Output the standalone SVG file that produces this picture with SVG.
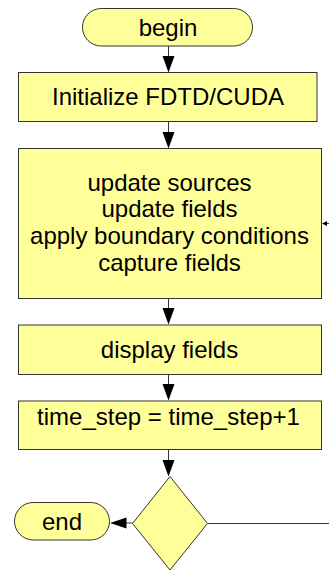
<svg xmlns="http://www.w3.org/2000/svg" width="329" height="571" viewBox="0 0 329 571">
<defs>
<style>
.n{fill:#ffff99;stroke:#333;stroke-width:1}
.t{font-family:"Liberation Sans",Arial,sans-serif;font-size:24px;fill:#000;text-anchor:middle}
.c{fill:none;stroke:#333;stroke-width:1}
.h{fill:#000;stroke:none}
</style>
</defs>
<rect width="329" height="571" fill="#fff"/>
<g id="connectors">
<line class="c" x1="168.5" y1="46" x2="168.5" y2="58"/>
<polygon class="h" points="162.5,56 174.5,56 168.5,72.5"/>
<line class="c" x1="168.5" y1="121.5" x2="168.5" y2="134"/>
<polygon class="h" points="162.5,132 174.5,132 168.5,148.5"/>
<line class="c" x1="168.5" y1="298.5" x2="168.5" y2="310"/>
<polygon class="h" points="162.5,308 174.5,308 168.5,324.5"/>
<line class="c" x1="168.5" y1="374.5" x2="168.5" y2="386"/>
<polygon class="h" points="162.5,384 174.5,384 168.5,400.5"/>
<line class="c" x1="168.5" y1="449.5" x2="168.5" y2="462"/>
<polygon class="h" points="162.5,460 174.5,460 168.5,476.5"/>
<line class="c" x1="132.5" y1="523" x2="124" y2="523"/>
<polygon class="h" points="126.5,517.5 126.5,528.5 110,523"/>
<polyline class="c" points="207.5,523.5 345,523.5 345,223.5 326,223.5"/>
<polygon class="h" points="327,221 327,226 322,223.5"/>
</g>
<g id="begin">
<rect class="n" x="82.5" y="8.5" width="170" height="37.5" rx="18.75"/>
<text class="t" x="168" y="35.5">begin</text>
</g>
<g id="init">
<rect class="n" x="18.5" y="72.5" width="298.5" height="49"/>
<text class="t" x="168" y="105">Initialize FDTD/CUDA</text>
</g>
<g id="loop">
<rect class="n" x="18.5" y="148.5" width="303" height="150"/>
<text class="t" x="169.5" y="190.7">update sources</text>
<text class="t" x="169.5" y="217.3">update fields</text>
<text class="t" x="169.5" y="244">apply boundary conditions</text>
<text class="t" x="169.5" y="270.7">capture fields</text>
</g>
<g id="display">
<rect class="n" x="18.5" y="325" width="303" height="49.5"/>
<text class="t" x="169.5" y="358">display fields</text>
</g>
<g id="step">
<rect class="n" x="18.5" y="401" width="303" height="48.5"/>
<text class="t" x="168.5" y="425">time_step = time_step+1</text>
</g>
<g id="decision">
<polygon class="n" points="170,476.5 207.5,523.5 170,570 132.5,523.5"/>
</g>
<g id="end">
<rect class="n" x="14.5" y="502.5" width="95" height="37.5" rx="18.75"/>
<text class="t" x="62" y="529.5">end</text>
</g>
</svg>
